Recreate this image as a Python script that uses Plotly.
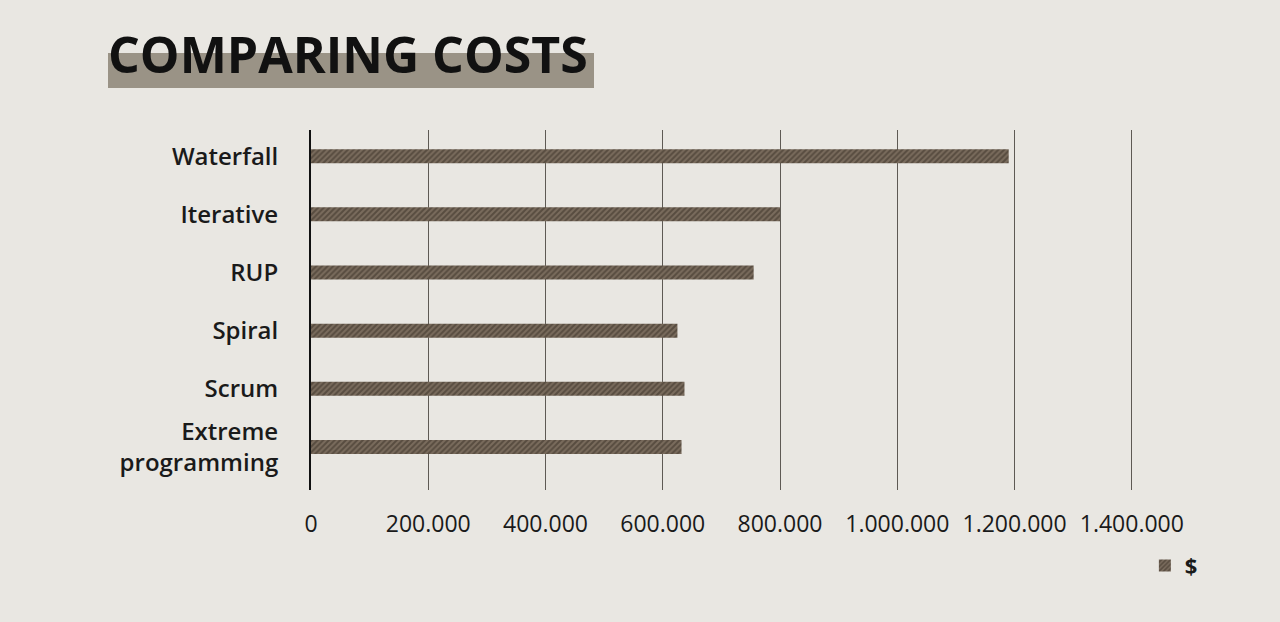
import plotly.graph_objects as go

categories = ["Waterfall", "Iterative", "RUP", "Spiral", "Scrum", "Extreme<br>programming"]
costs = [1190000, 800000, 755000, 625000, 637000, 632000]
tick_values = [0, 200000, 400000, 600000, 800000, 1000000, 1200000, 1400000]
series_name = "$"
title_text = "COMPARING COSTS"

BG = "#e9e7e2"
FONT = "Open Sans"

fig = go.Figure()
fig.add_trace(go.Bar(
    y=list(range(len(categories))),
    x=costs,
    orientation="h",
    name=series_name,
    width=0.24,
    marker=dict(
        color="#6a5d50",
        line=dict(width=0),
        pattern=dict(shape="/", fgcolor="#362c23", bgcolor="#7a6c5d", size=4, solidity=0.5),
    ),
    showlegend=True,
))

fig.update_layout(
    width=1280, height=622,
    paper_bgcolor=BG, plot_bgcolor=BG,
    margin=dict(l=311, r=147, t=130, b=132),
    separators=",.",
    font=dict(family=FONT, color="#1a1a1a"),
    showlegend=True,
    legend=dict(
        x=1.085, xanchor="right", y=-0.21, yanchor="middle",
        bgcolor="rgba(0,0,0,0)", font=dict(size=22, family=FONT, weight=700, color="#1a1a1a"),
        itemwidth=30,
    ),
    xaxis=dict(
        range=[0, 1402000],
        tickvals=tick_values,
        tickformat=",d",
        showgrid=True, gridcolor="#5e5a54", gridwidth=1,
        zeroline=False, showline=False,
        ticks="outside", ticklen=0, tickcolor=BG,
        ticklabelstandoff=13,
        tickfont=dict(size=23, family=FONT, color="#1a1a1a"),
        fixedrange=True,
    ),
    yaxis=dict(
        tickvals=list(range(len(categories))),
        ticktext=categories,
        range=[5.74, -0.45],
        showgrid=False, zeroline=False,
        showline=True, linecolor="#111111", linewidth=2,
        ticks="outside", ticklen=0, tickcolor=BG,
        ticklabelstandoff=26,
        tickfont=dict(size=24, family=FONT, weight=600, color="#1a1a1a"),
        fixedrange=True,
    ),
)

# title highlight band
fig.add_shape(
    type="rect", xref="paper", yref="paper",
    x0=(108 - 311) / 822, x1=(594 - 311) / 822,
    y0=(490 - 88) / 360, y1=(490 - 53) / 360,
    fillcolor="#9a9386", line=dict(width=0), layer="below",
)

fig.add_annotation(
    text="<b>" + title_text + "</b>",
    xref="paper", yref="paper",
    x=(106 - 311) / 822, y=(490 - 54) / 360,
    xanchor="left", yanchor="middle",
    showarrow=False,
    font=dict(size=50, family=FONT, color="#111111"),
)

fig.write_html("out.html")
